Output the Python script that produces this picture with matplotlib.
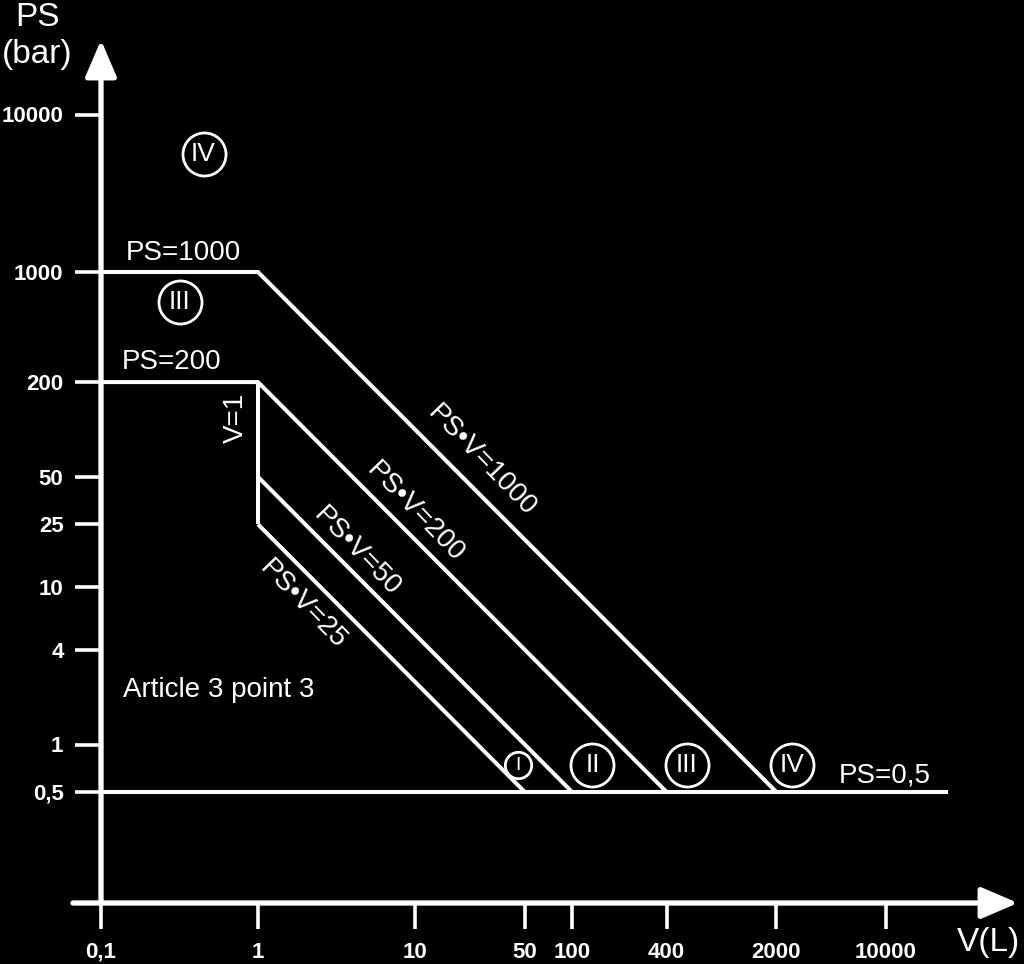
"""
PED category chart (PS vs V, log-log) on black background.
"""

import numpy as np
import matplotlib
matplotlib.use('Agg')
import matplotlib.pyplot as plt

plt.rcParams['font.family'] = ['Liberation Sans', 'DejaVu Sans']

# --- data (V in litres, PS in bar) ---
v_min = 0.1
v_break = 1
ps_flat = [1000, 200]                # PS limits left of V=1
ps_v_products = [1000, 200, 50, 25]  # PS*V limits
ps_min = 0.5
v_end_baseline = 25000               # right end of the PS=0,5 line
ps_vertical = [200, 25]              # V=1 segment

x_ticks = [0.1, 1, 10, 50, 100, 400, 2000, 10000]
x_tick_labels = ['0,1', '1', '10', '50', '100', '400', '2000', '10000']
y_ticks = [0.5, 1, 4, 10, 25, 50, 200, 1000, 10000]
y_tick_labels = ['0,5', '1', '4', '10', '25', '50', '200', '1000', '10000']

# category markers: label, V, PS, circle size
cat_labels = ['IV', 'III', 'I', 'II', 'III', 'IV']
cat_v = [0.45, 0.318, 45.5, 135, 540, 2520]
cat_ps = [5600, 645, 0.74, 0.74, 0.74, 0.74]
cat_small = [False, False, True, False, False, False]

# line labels: text, V, PS, rotation
line_texts = ['PS=1000', 'PS=200', 'V=1', 'PS•V=1000', 'PS•V=200',
              'PS•V=50', 'PS•V=25', 'PS=0,5', 'Article 3 point 3']
line_text_v = [0.333, 0.283, 0.72, 26.7, 10.0, 4.27, 1.94, 9860, 0.565]
line_text_ps = [1320, 268, 118, 63, 29.9, 16.7, 7.69, 0.64, 2.22]
line_text_rot = [0, 0, 90, -46, -46, -46, -46, 0, 0]

FG = 'white'
BG = 'black'

fig = plt.figure(figsize=(10.24, 9.64), dpi=100, facecolor=BG)
# axes box in pixels: x 101..1018, y 40..903 (top-down)
ax = fig.add_axes([101 / 1024, (964 - 903) / 964, (1018 - 101) / 1024, (903 - 40) / 964])
ax.set_facecolor(BG)
ax.set_xscale('log')
ax.set_yscale('log')
ax.set_xlim(0.1, 10 ** ((1018 - 101) / 157 - 1))
ax.set_ylim(10 ** (3 - (903 - 272) / 157.5), 10 ** (3 + (272 - 40) / 157.5))

lw = 2.9
line_kw = dict(color=FG, lw=lw, solid_joinstyle='miter', solid_capstyle='butt')

# flat PS lines joined to their PS*V diagonals
for ps, prod in zip(ps_flat, ps_v_products[:2]):
    ax.plot([v_min, v_break, prod / ps_min], [ps, ps, ps_min], **line_kw)
# diagonals starting at V=1
for prod in ps_v_products[2:]:
    ax.plot([v_break, prod / ps_min], [prod / v_break, ps_min], **line_kw)
# V=1 segment
ax.plot([v_break, v_break], ps_vertical, **line_kw)
# PS=0,5 baseline
ax.plot([v_min, v_end_baseline], [ps_min, ps_min], **line_kw)

# circled category numerals
for lbl, v, ps, small in zip(cat_labels, cat_v, cat_ps, cat_small):
    ms = 19 if small else 31
    fs = 14 if small else 19
    ax.plot(v, ps, marker='o', ms=ms, mfc='none', mec=FG, mew=2.0)
    ax.text(v, ps, lbl, color=FG, fontsize=fs, ha='center', va='center')

for txt, v, ps, rot in zip(line_texts, line_text_v, line_text_ps, line_text_rot):
    ax.text(v, ps, txt, color=FG, fontsize=20, ha='center', va='center',
            rotation=rot, rotation_mode='anchor')

# axes with arrows
for s in ax.spines.values():
    s.set_visible(False)
arrow = dict(arrowstyle='-|>,head_length=1.4,head_width=0.6', color=FG,
             lw=3.8, mutation_scale=16, shrinkA=0, shrinkB=0)
ax.annotate('', xy=(0, 1), xytext=(0, 0), xycoords='axes fraction',
            arrowprops=arrow, annotation_clip=False)
ax.annotate('', xy=(1, 0), xytext=(-28 / 917, 0), xycoords='axes fraction',
            arrowprops=arrow, annotation_clip=False)

ax.minorticks_off()
ax.set_xticks(x_ticks)
ax.set_xticklabels(x_tick_labels)
ax.set_yticks(y_ticks)
ax.set_yticklabels(y_tick_labels)
ax.tick_params(axis='both', colors=FG, length=19, width=2.6, direction='out',
               labelsize=16)
ax.tick_params(axis='x', pad=9)
ax.tick_params(axis='y', pad=8)
for t in ax.get_xticklabels() + ax.get_yticklabels():
    t.set_fontweight('bold')

# axis titles
fig.text(38 / 1024, 1 - 18 / 964, 'PS', color=FG, fontsize=24, ha='center', va='center')
fig.text(37 / 1024, 1 - 55 / 964, '(bar)', color=FG, fontsize=24, ha='center', va='center')
fig.text(988 / 1024, 1 - 942 / 964, 'V(L)', color=FG, fontsize=24, ha='center', va='center')

fig.savefig('out.png', dpi=100, facecolor=BG)
plt.close(fig)
